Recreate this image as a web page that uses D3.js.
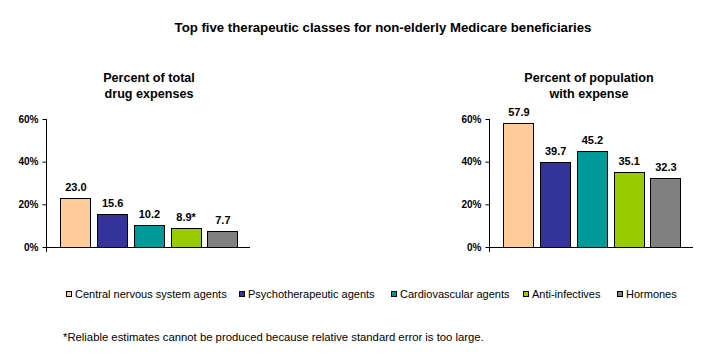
<!DOCTYPE html>
<html>
<head>
<meta charset="utf-8">
<script src="https://cdn.jsdelivr.net/npm/d3@7"></script>
<style>
  body { margin: 0; background: #fff; }
  svg { display: block; font-family: Arial, "Liberation Sans", sans-serif; }
</style>
</head>
<body>
<svg></svg>
<script>
const w = 716
const h = 361
const svg = d3.select("svg").attr("width", w).attr("height", h)

// data
const categories = ["Central nervous system agents", "Psychotherapeutic agents", "Cardiovascular agents", "Anti-infectives", "Hormones"]
const expenseShare = [23.0, 15.6, 10.2, 8.9, 7.7]
const expenseLabels = ["23.0", "15.6", "10.2", "8.9*", "7.7"]
const populationShare = [57.9, 39.7, 45.2, 35.1, 32.3]
const populationLabels = ["57.9", "39.7", "45.2", "35.1", "32.3"]
const yTicks = [0, 20, 40, 60]
const colors = ["#FFCC99", "#333399", "#009999", "#99CC00", "#808080"]

// shared scales (local to each panel)
const y = d3.scaleLinear().domain([0, 60]).range([247, 119])
const x = d3.scaleBand().domain(categories).range([11, 194.75])
    .paddingInner(0.184).paddingOuter(0.092)
const axisLen = 204

svg.append("text")
    .attr("x", 383).attr("y", 32)
    .attr("text-anchor", "middle")
    .attr("font-size", "13.2px").attr("font-weight", "bold")
    .text("Top five therapeutic classes for non-elderly Medicare beneficiaries")

const drawPanel = (left, values, labels, subtitle, subCenter) => {
    const g = svg.append("g").attr("transform", `translate(${left},0)`)

    // subtitle
    const st = g.append("text")
        .attr("text-anchor", "middle")
        .attr("font-size", "12.6px").attr("font-weight", "bold")
    subtitle.forEach((line, i) => {
        st.append("tspan").attr("x", subCenter).attr("y", 82 + i * 16).text(line)
    })

    // y axis
    const yAxis = d3.axisLeft(y).tickValues(yTicks).tickSize(4).tickPadding(4)
        .tickFormat(d => d + "%")
    const ya = g.append("g").attr("transform", "translate(0.5,0)").call(yAxis)
    ya.select(".domain").remove()
    ya.selectAll(".tick line").attr("stroke", "#000")
    ya.selectAll(".tick text")
        .attr("font-size", "10px").attr("font-weight", "bold")
        .attr("font-family", "Arial, 'Liberation Sans', sans-serif").attr("fill", "#000")

    // bars
    g.selectAll("rect.bar")
        .data(values)
        .enter()
        .append("rect")
        .attr("class", "bar")
        .attr("x", (d, i) => Math.round(x(categories[i])) + 0.5)
        .attr("y", d => Math.round(y(d)) + 0.5)
        .attr("width", Math.round(x.bandwidth()))
        .attr("height", d => Math.round(y(0)) - Math.round(y(d)))
        .attr("fill", (d, i) => colors[i])
        .attr("stroke", "#000")
        .attr("stroke-width", 1)

    // value labels
    g.selectAll("text.val")
        .data(values)
        .enter()
        .append("text")
        .attr("class", "val")
        .attr("x", (d, i) => x(categories[i]) + x.bandwidth() / 2 + 0.5)
        .attr("y", d => y(d) - 7)
        .attr("text-anchor", "middle")
        .attr("font-size", "11px").attr("font-weight", "bold")
        .text((d, i) => labels[i])

    // axis lines
    g.append("line")
        .attr("x1", 0.5).attr("x2", 0.5)
        .attr("y1", y(60)).attr("y2", y(0) + 5)
        .attr("stroke", "#000")
    g.append("line")
        .attr("x1", 0).attr("x2", axisLen)
        .attr("y1", y(0) + 0.5).attr("y2", y(0) + 0.5)
        .attr("stroke", "#000")
}

drawPanel(46, expenseShare, expenseLabels, ["Percent of total", "drug expenses"], 103)
drawPanel(489, populationShare, populationLabels, ["Percent of population", "with expense"], 100)

// legend
const legendX = [66, 239, 391, 523, 617]
const legend = svg.append("g")
categories.forEach((c, i) => {
    legend.append("rect")
        .attr("x", legendX[i] + 0.5).attr("y", 291.5)
        .attr("width", 5).attr("height", 5)
        .attr("fill", colors[i]).attr("stroke", "#000")
    legend.append("text")
        .attr("x", legendX[i] + 9).attr("y", 298)
        .attr("font-size", "11px")
        .text(c)
})

svg.append("text")
    .attr("x", 63).attr("y", 341)
    .attr("font-size", "11.3px")
    .text("*Reliable estimates cannot be produced because relative standard error is too large.")
</script>
</body>
</html>
